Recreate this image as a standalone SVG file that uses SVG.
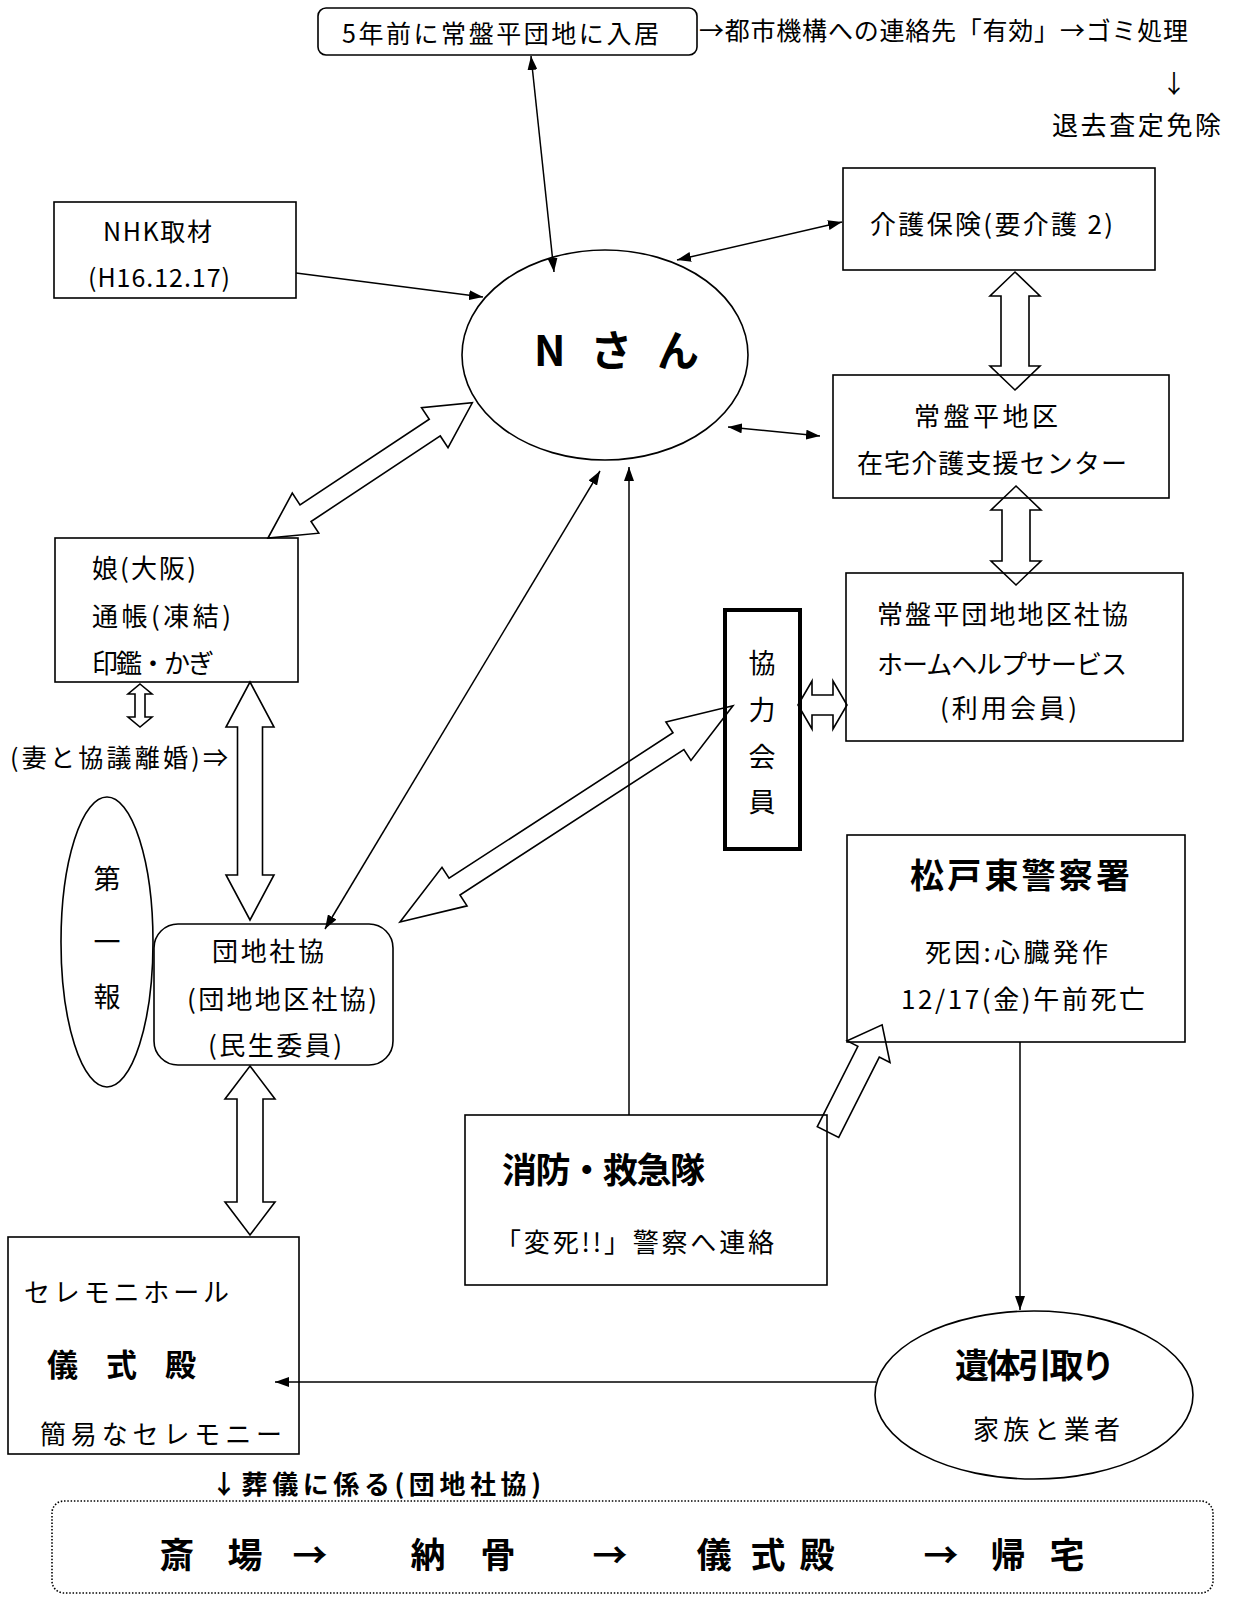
<svg xmlns="http://www.w3.org/2000/svg" width="1237" height="1597" viewBox="0 0 1237 1597">
<style>
.bg{fill:#fff}
.box{fill:none;stroke:#000;stroke-width:1.6}
.thick{fill:none;stroke:#000;stroke-width:4}
.dot{fill:none;stroke:#000;stroke-width:1.6;stroke-dasharray:1.5 1.8}
.ln{fill:none;stroke:#000;stroke-width:1.5}
.ha{fill:none;stroke:#000;stroke-width:1.6;stroke-linejoin:miter}
.t{font-family:"Noto Sans CJK JP","Noto Sans CJK SC",sans-serif;font-size:26px;fill:#000;dominant-baseline:central}
.s23{font-size:25px}
.s25{font-size:26px}
.s26{font-size:27px}
.s30{font-size:31px}
.s33{font-size:34px}
.s34{font-size:35px}
.s42{font-size:42px}
.b{font-weight:700}
.m{text-anchor:middle}
</style>
<defs>
<marker id="ah" viewBox="0 0 14 10" refX="14" refY="5" markerWidth="14" markerHeight="10" markerUnits="userSpaceOnUse" orient="auto-start-reverse">
<path d="M0,0 L14,5 L0,10 z" fill="#000"/>
</marker>
</defs>
<rect class="bg" x="0" y="0" width="1237" height="1597"/>

<g id="node-nyukyo">
<rect class="box" x="318" y="8" width="379" height="47" rx="8"/>
<text class="t s23" x="342" y="32" textLength="317">5年前に常盤平団地に入居</text>
</g>
<g id="note-toshikiko">
<text class="t s23" x="699" y="29" textLength="489">→都市機構への連絡先「有効」→ゴミ処理</text>
<text class="t s23 m" x="1174" y="82">↓</text>
<text class="t" x="1052" y="123" textLength="169">退去査定免除</text>
</g>
<g id="node-nhk">
<rect class="box" x="54" y="202" width="242" height="96"/>
<text class="t s23" x="103" y="230" textLength="109">NHK取材</text>
<text class="t s23" x="88" y="276" textLength="142">(H16.12.17)</text>
</g>
<g id="node-nsan">
<ellipse class="box" cx="605" cy="355" rx="143" ry="105"/>
<text class="t b s42" x="534" y="347" textLength="165">N さ ん</text>
</g>
<g id="node-kaigohoken">
<rect class="box" x="843" y="168" width="312" height="102"/>
<text class="t" x="870" y="222" textLength="243">介護保険(要介護 2)</text>
</g>
<g id="node-zaitaku">
<rect class="box" x="833" y="375" width="336" height="123"/>
<text class="t" x="914" y="414" textLength="144">常盤平地区</text>
<text class="t" x="857" y="461" textLength="270">在宅介護支援センター</text>
</g>
<g id="node-homehelp">
<rect class="box" x="846" y="573" width="337" height="168"/>
<text class="t" x="877" y="612" textLength="251">常盤平団地地区社協</text>
<text class="t" x="877" y="662" textLength="250">ホームヘルプサービス</text>
<text class="t" x="940" y="706" textLength="137">(利用会員)</text>
</g>
<g id="node-kyoryoku">
<rect class="thick" x="725" y="610" width="75" height="239"/>
<text class="t s26 m" x="762" y="661">協</text>
<text class="t s26 m" x="762" y="708">力</text>
<text class="t s26 m" x="762" y="755">会</text>
<text class="t s26 m" x="762" y="800">員</text>
</g>
<g id="node-police">
<rect class="box" x="847" y="835" width="338" height="207"/>
<text class="t b s33" x="910" y="873" textLength="220">松戸東警察署</text>
<text class="t" x="925" y="950" textLength="183">死因:心臓発作</text>
<text class="t" x="901" y="997" textLength="244">12/17(金)午前死亡</text>
</g>
<g id="node-musume">
<rect class="box" x="55" y="538" width="243" height="144"/>
<text class="t" x="92" y="566" textLength="104">娘(大阪)</text>
<text class="t" x="92" y="614" textLength="139">通帳(凍結)</text>
<text class="t" x="92" y="661" textLength="122">印鑑・かぎ</text>
</g>
<g id="note-rikon">
<text class="t s23" x="10" y="756" textLength="218">(妻と協議離婚)⇒</text>
</g>
<g id="node-daiippo">
<ellipse class="box" cx="107" cy="942" rx="46" ry="145"/>
<text class="t s26 m" x="107" y="877">第</text>
<text class="t s26 m" x="107" y="940">一</text>
<text class="t s26 m" x="107" y="995">報</text>
</g>
<g id="node-danchi">
<rect class="box" x="154" y="924" width="239" height="141" rx="24"/>
<text class="t" x="212" y="949" textLength="112">団地社協</text>
<text class="t" x="187" y="997" textLength="190">(団地地区社協)</text>
<text class="t" x="208" y="1043" textLength="134">(民生委員)</text>
</g>
<g id="node-ceremony">
<rect class="box" x="8" y="1237" width="291" height="217"/>
<text class="t" x="24" y="1290" textLength="205">セレモニホール</text>
<text class="t b s30" x="47" y="1362" textLength="149">儀 式 殿</text>
<text class="t" x="40" y="1432" textLength="242">簡易なセレモニー</text>
</g>
<g id="node-shobo">
<rect class="box" x="465" y="1115" width="362" height="170"/>
<text class="t b s34" x="502" y="1167" textLength="203">消防・救急隊</text>
<text class="t" x="495" y="1240" textLength="279">「変死!!」警察へ連絡</text>
</g>
<g id="node-itai">
<ellipse class="box" cx="1034" cy="1395" rx="159" ry="84"/>
<text class="t b s33" x="955" y="1363" textLength="160">遺体引取り</text>
<text class="t" x="973" y="1427" textLength="147">家族と業者</text>
</g>
<g id="note-sogi">
<text class="t b s25" x="211" y="1482" textLength="330">↓葬儀に係る(団地社協)</text>
</g>
<g id="node-flow">
<rect class="dot" x="52" y="1501" width="1161" height="92" rx="12"/>
<text class="t b m s34" x="177 245 310 428 498 610 714 768 817 941 1008 1067" y="1552">斎場→納骨→儀式殿→帰宅</text>
</g>

<g id="connectors">
<line class="ln" x1="531" y1="56" x2="554" y2="272" marker-start="url(#ah)" marker-end="url(#ah)"/>
<line class="ln" x1="296" y1="273" x2="483" y2="297" marker-end="url(#ah)"/>
<line class="ln" x1="677" y1="260" x2="842" y2="222" marker-start="url(#ah)" marker-end="url(#ah)"/>
<line class="ln" x1="728" y1="427" x2="820" y2="436" marker-start="url(#ah)" marker-end="url(#ah)"/>
<line class="ln" x1="600" y1="471" x2="325" y2="929" marker-start="url(#ah)" marker-end="url(#ah)"/>
<line class="ln" x1="629" y1="1115" x2="629" y2="467" marker-end="url(#ah)"/>
<line class="ln" x1="1020" y1="1042" x2="1020" y2="1310" marker-end="url(#ah)"/>
<line class="ln" x1="876" y1="1382" x2="275" y2="1382" marker-end="url(#ah)"/>
<polygon class="ha" points="1015,272 1040,296 1029,296 1029,366 1040,366 1015,390 990,366 1001,366 1001,296 990,296"/>
<polygon class="ha" points="1016,486 1041,510 1030,510 1030,561 1041,561 1016,585 991,561 1002,561 1002,510 991,510"/>
<polygon class="ha" points="798,705 812,681 812,695 833,695 833,681 847,705 833,729 833,715 812,715 812,729"/>
<polygon class="ha" points="250,682 274,727 262.5,727 262.5,875 274,875 250,920 226,875 237.5,875 237.5,727 226,727"/>
<polygon class="ha" points="250,1066 275,1099 263,1099 263,1202 275,1202 250,1235 225,1202 237,1202 237,1099 225,1099"/>
<polygon class="ha" points="140,684 152,694 145,694 145,717 152,717 140,727 128,717 135,717 135,694 128,694"/>
<polygon class="ha" transform="translate(268,538) rotate(-33.5)" points="0,0 45,-24 45,-10 200,-10 200,-24 245,0 200,24 200,10 45,10 45,24"/>
<polygon class="ha" transform="translate(400,922) rotate(-33)" points="0,0 65,-23 65,-10 332,-10 332,-23 397,0 332,23 332,10 65,10 65,23"/>
<polygon class="ha" transform="translate(828,1132) rotate(-63.2)" points="0,-12 90,-12 90,-24 120,0 90,24 90,12 0,12"/>
</g>
</svg>
